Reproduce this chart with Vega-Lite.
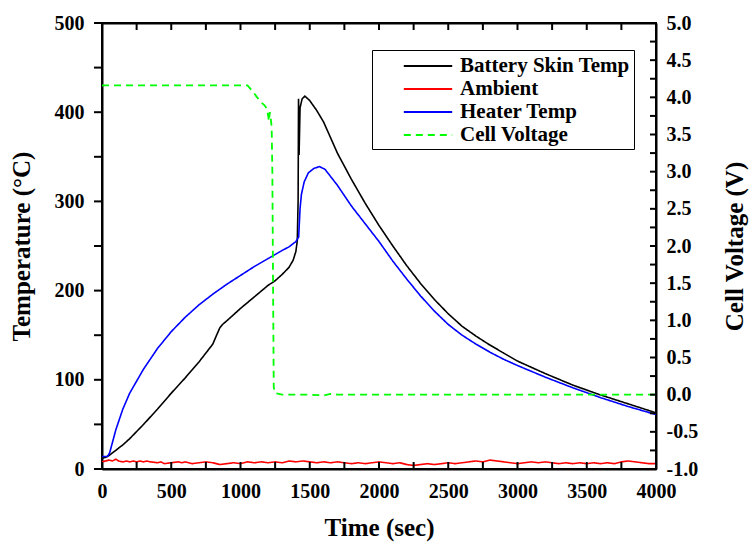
{
  "$schema": "https://vega.github.io/schema/vega-lite/v6.json",
  "width": 554,
  "height": 446,
  "autosize": {"type": "none"},
  "padding": {"left": 102, "top": 23, "right": 98, "bottom": 77},
  "background": "white",
  "datasets": {
    "temps": [
      {"series": "Battery Skin Temp", "t": 0, "v": 12},
      {"series": "Battery Skin Temp", "t": 25, "v": 13},
      {"series": "Battery Skin Temp", "t": 50, "v": 15},
      {"series": "Battery Skin Temp", "t": 100, "v": 21},
      {"series": "Battery Skin Temp", "t": 150, "v": 27},
      {"series": "Battery Skin Temp", "t": 200, "v": 34},
      {"series": "Battery Skin Temp", "t": 300, "v": 50},
      {"series": "Battery Skin Temp", "t": 400, "v": 67},
      {"series": "Battery Skin Temp", "t": 500, "v": 85},
      {"series": "Battery Skin Temp", "t": 600, "v": 102},
      {"series": "Battery Skin Temp", "t": 700, "v": 120},
      {"series": "Battery Skin Temp", "t": 800, "v": 140},
      {"series": "Battery Skin Temp", "t": 830, "v": 151},
      {"series": "Battery Skin Temp", "t": 850, "v": 158},
      {"series": "Battery Skin Temp", "t": 870, "v": 162},
      {"series": "Battery Skin Temp", "t": 900, "v": 166},
      {"series": "Battery Skin Temp", "t": 1000, "v": 180},
      {"series": "Battery Skin Temp", "t": 1100, "v": 193},
      {"series": "Battery Skin Temp", "t": 1200, "v": 206},
      {"series": "Battery Skin Temp", "t": 1250, "v": 211},
      {"series": "Battery Skin Temp", "t": 1300, "v": 218},
      {"series": "Battery Skin Temp", "t": 1350, "v": 226},
      {"series": "Battery Skin Temp", "t": 1380, "v": 234},
      {"series": "Battery Skin Temp", "t": 1400, "v": 244},
      {"series": "Battery Skin Temp", "t": 1410, "v": 256},
      {"series": "Battery Skin Temp", "t": 1416, "v": 300},
      {"series": "Battery Skin Temp", "t": 1419, "v": 415},
      {"series": "Battery Skin Temp", "t": 1423, "v": 352},
      {"series": "Battery Skin Temp", "t": 1430, "v": 405},
      {"series": "Battery Skin Temp", "t": 1445, "v": 415},
      {"series": "Battery Skin Temp", "t": 1465, "v": 418},
      {"series": "Battery Skin Temp", "t": 1500, "v": 413},
      {"series": "Battery Skin Temp", "t": 1550, "v": 402},
      {"series": "Battery Skin Temp", "t": 1600, "v": 389},
      {"series": "Battery Skin Temp", "t": 1700, "v": 354},
      {"series": "Battery Skin Temp", "t": 1800, "v": 325},
      {"series": "Battery Skin Temp", "t": 1900, "v": 298},
      {"series": "Battery Skin Temp", "t": 2000, "v": 273},
      {"series": "Battery Skin Temp", "t": 2100, "v": 250},
      {"series": "Battery Skin Temp", "t": 2200, "v": 228},
      {"series": "Battery Skin Temp", "t": 2300, "v": 208},
      {"series": "Battery Skin Temp", "t": 2400, "v": 190},
      {"series": "Battery Skin Temp", "t": 2500, "v": 174},
      {"series": "Battery Skin Temp", "t": 2600, "v": 160},
      {"series": "Battery Skin Temp", "t": 2700, "v": 149},
      {"series": "Battery Skin Temp", "t": 2800, "v": 139},
      {"series": "Battery Skin Temp", "t": 2900, "v": 130},
      {"series": "Battery Skin Temp", "t": 3000, "v": 121},
      {"series": "Battery Skin Temp", "t": 3200, "v": 107},
      {"series": "Battery Skin Temp", "t": 3400, "v": 94},
      {"series": "Battery Skin Temp", "t": 3600, "v": 83},
      {"series": "Battery Skin Temp", "t": 3800, "v": 73},
      {"series": "Battery Skin Temp", "t": 4000, "v": 63},

      {"series": "Heater Temp", "t": 0, "v": 14},
      {"series": "Heater Temp", "t": 40, "v": 14},
      {"series": "Heater Temp", "t": 55, "v": 18},
      {"series": "Heater Temp", "t": 100, "v": 44},
      {"series": "Heater Temp", "t": 150, "v": 67},
      {"series": "Heater Temp", "t": 200, "v": 85},
      {"series": "Heater Temp", "t": 300, "v": 112},
      {"series": "Heater Temp", "t": 400, "v": 135},
      {"series": "Heater Temp", "t": 500, "v": 154},
      {"series": "Heater Temp", "t": 600, "v": 170},
      {"series": "Heater Temp", "t": 700, "v": 184},
      {"series": "Heater Temp", "t": 800, "v": 196},
      {"series": "Heater Temp", "t": 900, "v": 207},
      {"series": "Heater Temp", "t": 1000, "v": 217},
      {"series": "Heater Temp", "t": 1100, "v": 227},
      {"series": "Heater Temp", "t": 1200, "v": 236},
      {"series": "Heater Temp", "t": 1300, "v": 245},
      {"series": "Heater Temp", "t": 1350, "v": 249},
      {"series": "Heater Temp", "t": 1400, "v": 255},
      {"series": "Heater Temp", "t": 1420, "v": 260},
      {"series": "Heater Temp", "t": 1430, "v": 292},
      {"series": "Heater Temp", "t": 1440, "v": 308},
      {"series": "Heater Temp", "t": 1460, "v": 322},
      {"series": "Heater Temp", "t": 1490, "v": 332},
      {"series": "Heater Temp", "t": 1530, "v": 337},
      {"series": "Heater Temp", "t": 1570, "v": 339},
      {"series": "Heater Temp", "t": 1610, "v": 336},
      {"series": "Heater Temp", "t": 1700, "v": 318},
      {"series": "Heater Temp", "t": 1800, "v": 295},
      {"series": "Heater Temp", "t": 1900, "v": 275},
      {"series": "Heater Temp", "t": 2000, "v": 255},
      {"series": "Heater Temp", "t": 2100, "v": 233},
      {"series": "Heater Temp", "t": 2200, "v": 213},
      {"series": "Heater Temp", "t": 2300, "v": 194},
      {"series": "Heater Temp", "t": 2400, "v": 177},
      {"series": "Heater Temp", "t": 2500, "v": 162},
      {"series": "Heater Temp", "t": 2600, "v": 150},
      {"series": "Heater Temp", "t": 2700, "v": 140},
      {"series": "Heater Temp", "t": 2800, "v": 131},
      {"series": "Heater Temp", "t": 2900, "v": 123},
      {"series": "Heater Temp", "t": 3000, "v": 116},
      {"series": "Heater Temp", "t": 3200, "v": 103},
      {"series": "Heater Temp", "t": 3400, "v": 91},
      {"series": "Heater Temp", "t": 3600, "v": 80},
      {"series": "Heater Temp", "t": 3800, "v": 70},
      {"series": "Heater Temp", "t": 4000, "v": 61},

      {"series": "Ambient", "t": 0, "v": 8},
      {"series": "Ambient", "t": 25, "v": 9},
      {"series": "Ambient", "t": 50, "v": 10},
      {"series": "Ambient", "t": 75, "v": 9},
      {"series": "Ambient", "t": 100, "v": 11},
      {"series": "Ambient", "t": 120, "v": 9},
      {"series": "Ambient", "t": 150, "v": 8},
      {"series": "Ambient", "t": 175, "v": 9},
      {"series": "Ambient", "t": 200, "v": 8},
      {"series": "Ambient", "t": 225, "v": 9},
      {"series": "Ambient", "t": 250, "v": 8},
      {"series": "Ambient", "t": 275, "v": 9},
      {"series": "Ambient", "t": 300, "v": 8},
      {"series": "Ambient", "t": 325, "v": 9},
      {"series": "Ambient", "t": 350, "v": 8},
      {"series": "Ambient", "t": 400, "v": 7},
      {"series": "Ambient", "t": 425, "v": 8},
      {"series": "Ambient", "t": 450, "v": 6},
      {"series": "Ambient", "t": 500, "v": 7},
      {"series": "Ambient", "t": 550, "v": 8},
      {"series": "Ambient", "t": 575, "v": 7},
      {"series": "Ambient", "t": 600, "v": 8},
      {"series": "Ambient", "t": 650, "v": 6},
      {"series": "Ambient", "t": 700, "v": 7},
      {"series": "Ambient", "t": 750, "v": 8},
      {"series": "Ambient", "t": 800, "v": 7},
      {"series": "Ambient", "t": 850, "v": 5},
      {"series": "Ambient", "t": 900, "v": 6},
      {"series": "Ambient", "t": 950, "v": 7},
      {"series": "Ambient", "t": 1000, "v": 6},
      {"series": "Ambient", "t": 1050, "v": 8},
      {"series": "Ambient", "t": 1100, "v": 7},
      {"series": "Ambient", "t": 1150, "v": 8},
      {"series": "Ambient", "t": 1200, "v": 7},
      {"series": "Ambient", "t": 1250, "v": 8},
      {"series": "Ambient", "t": 1300, "v": 7},
      {"series": "Ambient", "t": 1350, "v": 9},
      {"series": "Ambient", "t": 1400, "v": 8},
      {"series": "Ambient", "t": 1450, "v": 9},
      {"series": "Ambient", "t": 1500, "v": 8},
      {"series": "Ambient", "t": 1550, "v": 7},
      {"series": "Ambient", "t": 1600, "v": 8},
      {"series": "Ambient", "t": 1650, "v": 7},
      {"series": "Ambient", "t": 1700, "v": 8},
      {"series": "Ambient", "t": 1750, "v": 7},
      {"series": "Ambient", "t": 1800, "v": 6},
      {"series": "Ambient", "t": 1850, "v": 7},
      {"series": "Ambient", "t": 1900, "v": 6},
      {"series": "Ambient", "t": 1950, "v": 7},
      {"series": "Ambient", "t": 2000, "v": 8},
      {"series": "Ambient", "t": 2050, "v": 7},
      {"series": "Ambient", "t": 2100, "v": 6},
      {"series": "Ambient", "t": 2150, "v": 7},
      {"series": "Ambient", "t": 2200, "v": 5},
      {"series": "Ambient", "t": 2250, "v": 4},
      {"series": "Ambient", "t": 2300, "v": 5},
      {"series": "Ambient", "t": 2350, "v": 6},
      {"series": "Ambient", "t": 2400, "v": 5},
      {"series": "Ambient", "t": 2450, "v": 6},
      {"series": "Ambient", "t": 2500, "v": 7},
      {"series": "Ambient", "t": 2550, "v": 6},
      {"series": "Ambient", "t": 2600, "v": 7},
      {"series": "Ambient", "t": 2650, "v": 8},
      {"series": "Ambient", "t": 2700, "v": 9},
      {"series": "Ambient", "t": 2750, "v": 8},
      {"series": "Ambient", "t": 2800, "v": 10},
      {"series": "Ambient", "t": 2850, "v": 9},
      {"series": "Ambient", "t": 2900, "v": 8},
      {"series": "Ambient", "t": 2950, "v": 7},
      {"series": "Ambient", "t": 3000, "v": 6},
      {"series": "Ambient", "t": 3050, "v": 7},
      {"series": "Ambient", "t": 3100, "v": 8},
      {"series": "Ambient", "t": 3150, "v": 7},
      {"series": "Ambient", "t": 3200, "v": 8},
      {"series": "Ambient", "t": 3250, "v": 7},
      {"series": "Ambient", "t": 3300, "v": 6},
      {"series": "Ambient", "t": 3350, "v": 7},
      {"series": "Ambient", "t": 3400, "v": 6},
      {"series": "Ambient", "t": 3450, "v": 7},
      {"series": "Ambient", "t": 3500, "v": 6},
      {"series": "Ambient", "t": 3550, "v": 7},
      {"series": "Ambient", "t": 3600, "v": 6},
      {"series": "Ambient", "t": 3650, "v": 7},
      {"series": "Ambient", "t": 3700, "v": 6},
      {"series": "Ambient", "t": 3750, "v": 8},
      {"series": "Ambient", "t": 3800, "v": 9},
      {"series": "Ambient", "t": 3850, "v": 8},
      {"series": "Ambient", "t": 3900, "v": 7},
      {"series": "Ambient", "t": 3950, "v": 6},
      {"series": "Ambient", "t": 4000, "v": 6}
    ],
    "volts": [
      {"series": "Cell Voltage", "t": 0, "v": 4.16},
      {"series": "Cell Voltage", "t": 1050, "v": 4.16},
      {"series": "Cell Voltage", "t": 1080, "v": 4.1},
      {"series": "Cell Voltage", "t": 1120, "v": 4.0},
      {"series": "Cell Voltage", "t": 1150, "v": 3.93},
      {"series": "Cell Voltage", "t": 1170, "v": 3.9},
      {"series": "Cell Voltage", "t": 1190, "v": 3.85},
      {"series": "Cell Voltage", "t": 1200, "v": 3.75},
      {"series": "Cell Voltage", "t": 1205, "v": 3.68},
      {"series": "Cell Voltage", "t": 1212, "v": 3.8},
      {"series": "Cell Voltage", "t": 1218, "v": 3.72},
      {"series": "Cell Voltage", "t": 1225, "v": 3.6},
      {"series": "Cell Voltage", "t": 1230, "v": 3.0},
      {"series": "Cell Voltage", "t": 1235, "v": 1.5},
      {"series": "Cell Voltage", "t": 1240, "v": 0.1},
      {"series": "Cell Voltage", "t": 1250, "v": 0.02},
      {"series": "Cell Voltage", "t": 1300, "v": 0.0},
      {"series": "Cell Voltage", "t": 1500, "v": 0.0},
      {"series": "Cell Voltage", "t": 1600, "v": -0.01},
      {"series": "Cell Voltage", "t": 1650, "v": 0.01},
      {"series": "Cell Voltage", "t": 1700, "v": 0.0},
      {"series": "Cell Voltage", "t": 4000, "v": 0.0}
    ],
    "xticks": [
      {"t": 0}, {"t": 250}, {"t": 500}, {"t": 750}, {"t": 1000}, {"t": 1250}, {"t": 1500}, {"t": 1750}, {"t": 2000},
      {"t": 2250}, {"t": 2500}, {"t": 2750}, {"t": 3000}, {"t": 3250}, {"t": 3500}, {"t": 3750}, {"t": 4000}
    ],
    "yticks": [
      {"v": 0}, {"v": 50}, {"v": 100}, {"v": 150}, {"v": 200}, {"v": 250}, {"v": 300}, {"v": 350}, {"v": 400}, {"v": 450}, {"v": 500}
    ],
    "vticks": [
      {"v": -1}, {"v": -0.75}, {"v": -0.5}, {"v": -0.25}, {"v": 0}, {"v": 0.25}, {"v": 0.5}, {"v": 0.75}, {"v": 1},
      {"v": 1.25}, {"v": 1.5}, {"v": 1.75}, {"v": 2}, {"v": 2.25}, {"v": 2.5}, {"v": 2.75}, {"v": 3}, {"v": 3.25},
      {"v": 3.5}, {"v": 3.75}, {"v": 4}, {"v": 4.25}, {"v": 4.5}, {"v": 4.75}, {"v": 5}
    ]
  },
  "config": {
    "font": "Liberation Serif",
    "view": {"stroke": "black", "strokeWidth": 2},
    "axis": {
      "grid": false,
      "ticks": false,
      "domainColor": "black",
      "domainWidth": 2,
      "labelFont": "Liberation Serif",
      "labelFontWeight": "bold",
      "labelFontSize": 20,
      "labelColor": "black",
      "titleFont": "Liberation Serif",
      "titleFontWeight": "bold",
      "titleFontSize": 25,
      "titleColor": "black"
    },
    "legend": {
      "labelFont": "Liberation Serif",
      "labelFontWeight": "bold",
      "labelFontSize": 21,
      "labelColor": "black"
    }
  },
  "layer": [
    {
      "data": {"name": "temps"},
      "mark": {"type": "line", "strokeWidth": 1.6},
      "encoding": {
        "x": {
          "field": "t",
          "type": "quantitative",
          "scale": {"domain": [0, 4000], "nice": false, "zero": false},
          "axis": {"orient": "bottom", "title": "Time (sec)", "values": [0, 500, 1000, 1500, 2000, 2500, 3000, 3500, 4000], "format": "d", "labelPadding": 12, "labelFlush": false, "titlePadding": 14}
        },
        "y": {
          "field": "v",
          "type": "quantitative",
          "scale": {"domain": [0, 500], "nice": false},
          "axis": {"orient": "left", "title": "Temperature (°C)", "values": [0, 100, 200, 300, 400, 500], "labelPadding": 18, "labelFlush": false, "titlePadding": 20}
        },
        "color": {
          "field": "series",
          "type": "nominal",
          "scale": {
            "domain": ["Battery Skin Temp", "Ambient", "Heater Temp", "Cell Voltage"],
            "range": ["#000000", "#ff0000", "#0000ff", "#00ff00"]
          },
          "legend": {
            "title": null,
            "orient": "none",
            "legendX": 270,
            "legendY": 27,
            "symbolType": "M-2.2,0H2.2",
            "symbolSize": 484,
            "symbolStrokeWidth": 2,
            "strokeColor": "black",
            "fillColor": "white",
            "padding": 4,
            "rowPadding": 1,
            "labelOffset": 20,
            "symbolOffset": 40,
            "labelLimit": 400
          }
        },
        "strokeDash": {
          "field": "series",
          "type": "nominal",
          "scale": {
            "domain": ["Battery Skin Temp", "Ambient", "Heater Temp", "Cell Voltage"],
            "range": [[1, 0], [1, 0], [1, 0], [7, 5]]
          },
          "legend": null
        },
        "order": {"field": "t", "type": "quantitative"}
      }
    },
    {
      "data": {"name": "volts"},
      "mark": {"type": "line", "strokeWidth": 1.8, "strokeDash": [7, 5]},
      "encoding": {
        "x": {
          "field": "t",
          "type": "quantitative",
          "scale": {"domain": [0, 4000], "nice": false, "zero": false},
          "axis": {"orient": "top", "title": null, "labels": false, "values": [0, 1000, 2000, 3000, 4000]}
        },
        "y": {
          "field": "v",
          "type": "quantitative",
          "scale": {"domain": [-1, 5], "nice": false, "zero": false},
          "axis": {"orient": "right", "title": "Cell Voltage (V)", "titleAngle": 270, "titleBaseline": "top", "values": [-1, -0.5, 0, 0.5, 1, 1.5, 2, 2.5, 3, 3.5, 4, 4.5, 5], "labelExpr": "replace(format(datum.value, '.1f'), '−', '-')", "labelPadding": 10, "labelFlush": false, "titlePadding": 25}
        },
        "color": {
          "field": "series",
          "type": "nominal",
          "scale": {
            "domain": ["Battery Skin Temp", "Ambient", "Heater Temp", "Cell Voltage"],
            "range": ["#000000", "#ff0000", "#0000ff", "#00ff00"]
          }
        },
        "strokeDash": {
          "field": "series",
          "type": "nominal",
          "scale": {
            "domain": ["Battery Skin Temp", "Ambient", "Heater Temp", "Cell Voltage"],
            "range": [[1, 0], [1, 0], [1, 0], [7, 5]]
          },
          "legend": null
        }
      }
    },
    {
      "layer": [
        {
          "data": {"name": "xticks"},
          "mark": {"type": "rule", "color": "black", "strokeWidth": 2},
          "encoding": {
            "x": {"field": "t", "type": "quantitative", "scale": {"domain": [0, 4000], "nice": false, "zero": false}, "axis": null},
            "y": {"datum": 0, "type": "quantitative", "scale": {"domain": [0, 500], "nice": false}, "axis": null},
            "y2": {"datum": 7.85}
          }
        },
        {
          "data": {"name": "xticks"},
          "mark": {"type": "rule", "color": "black", "strokeWidth": 2},
          "encoding": {
            "x": {"field": "t", "type": "quantitative", "scale": {"domain": [0, 4000], "nice": false, "zero": false}, "axis": null},
            "y": {"datum": 500, "type": "quantitative", "scale": {"domain": [0, 500], "nice": false}, "axis": null},
            "y2": {"datum": 492.15}
          }
        },
        {
          "data": {"name": "yticks"},
          "mark": {"type": "point", "shape": "M-1,0H1", "size": 64, "filled": false, "stroke": "black", "strokeWidth": 2, "opacity": 1},
          "encoding": {
            "x": {"datum": -28.9, "type": "quantitative", "scale": {"domain": [0, 4000], "nice": false, "zero": false}, "axis": null},
            "y": {"field": "v", "type": "quantitative", "scale": {"domain": [0, 500], "nice": false}, "axis": null}
          }
        }
      ]
    },
    {
      "data": {"name": "vticks"},
      "mark": {"type": "point", "shape": "M-1,0H1", "size": 36, "filled": false, "stroke": "black", "strokeWidth": 2, "opacity": 1},
      "encoding": {
        "x": {"datum": 3978.3, "type": "quantitative", "scale": {"domain": [0, 4000], "nice": false, "zero": false}, "axis": null},
        "y": {"field": "v", "type": "quantitative", "scale": {"domain": [-1, 5], "nice": false, "zero": false}, "axis": null}
      }
    }
  ],
  "resolve": {
    "scale": {"y": "independent"},
    "axis": {"x": "independent", "y": "independent"}
  }
}
